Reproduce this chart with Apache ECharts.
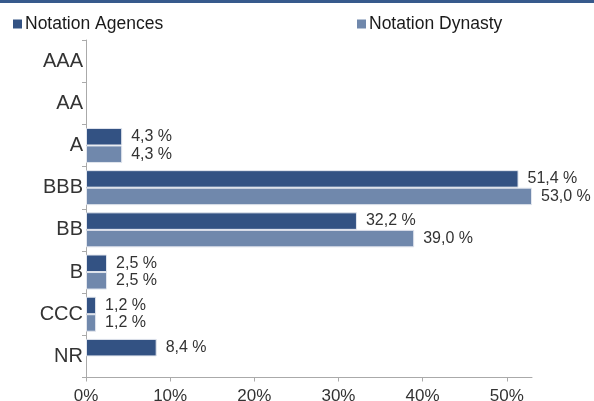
<!DOCTYPE html>
<html><head><meta charset="utf-8">
<script src="https://cdn.jsdelivr.net/npm/echarts@6/dist/echarts.min.js"></script>
<style>html,body{margin:0;padding:0;background:#fff}#c{width:594px;height:401px}</style>
</head><body><div id="c"></div>
<script>
var categories = ['AAA','AA','A','BBB','BB','B','CCC','NR'];
var agences = [null, null, 4.3, 51.4, 32.2, 2.5, 1.2, 8.4];
var dynasty = [null, null, 4.3, 53.0, 39.0, 2.5, 1.2, null];
var xTicks = [0, 10, 20, 30, 40, 50];
var seriesNames = ['Notation Agences', 'Notation Dynasty'];

var font = 'Liberation Sans';
function lbl(p){ return p.value == null ? '' : p.value.toFixed(1).replace('.', ',') + ' %'; }
var chart = echarts.init(document.getElementById('c'), null, {renderer:'canvas'});
var legendCommon = {itemWidth:9, itemHeight:9, itemGap:0, icon:'rect', padding:0,
  itemStyle:{borderWidth:0},
  textStyle:{fontFamily:font, fontSize:17.5, color:'#1a1a1a', padding:[0,0,0,-2]}};
chart.setOption({
  animation:false,
  graphic:[{type:'rect', shape:{x:0,y:0,width:594,height:3}, style:{fill:'#375a8c'}}],
  legend:[
    Object.assign({data:[seriesNames[0]], left:13, top:15}, legendCommon),
    Object.assign({data:[seriesNames[1]], left:357, top:15}, legendCommon)
  ],
  grid:{left:86, right:62, top:40, bottom:23.5, containLabel:false, outerBoundsMode:'none'},
  xAxis:{type:'value', min:0, max:53, interval:10,
    axisLine:{show:true, lineStyle:{color:'#aaa'}},
    axisTick:{show:true, length:4, lineStyle:{color:'#aaa'}},
    splitLine:{show:false},
    axisLabel:{fontFamily:font, fontSize:17, color:'#333', margin:10,
      showMaxLabel:false,
      formatter:function(v){ return xTicks.indexOf(v) >= 0 ? v + '%' : ''; }}
  },
  yAxis:{type:'category', data:categories, inverse:true,
    axisLine:{show:true, lineStyle:{color:'#aaa'}},
    axisTick:{show:true, length:4, lineStyle:{color:'#aaa'}},
    axisLabel:{fontFamily:font, fontSize:20, color:'#333', margin:3, padding:[4,0,0,0]}
  },
  series:[
    {name:seriesNames[0], type:'bar', data:agences, barGap:'0%', barCategoryGap:'17%',
     itemStyle:{color:'#335283', borderColor:'#e2e6ee', borderWidth:1},
     label:{show:true, position:'right', distance:9, fontFamily:font, fontSize:16, color:'#333', formatter:lbl}},
    {name:seriesNames[1], type:'bar', data:dynasty, barGap:'0%', barCategoryGap:'17%',
     itemStyle:{color:'#7088ac', borderColor:'#e2e6ee', borderWidth:1},
     label:{show:true, position:'right', distance:9, fontFamily:font, fontSize:16, color:'#333', formatter:lbl}}
  ]
});
</script></body></html>
